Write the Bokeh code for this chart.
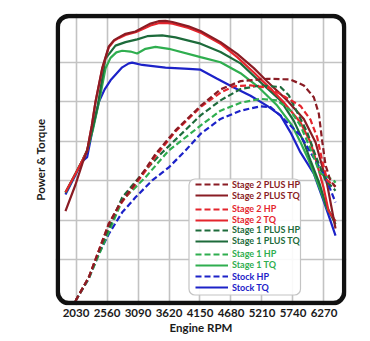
from bokeh.plotting import figure
from bokeh.models import Range1d, FixedTicker, BoxAnnotation, Legend, LegendItem, LinearAxis
from bokeh.embed import file_html
from bokeh.resources import INLINE

# ---------------- data ----------------
rpm_ticks = [2030, 2560, 3090, 3620, 4150, 4680, 5210, 5740, 6270]
grid_levels = [100, 200, 300, 400, 500, 600]

s2p_tq_rpm = [1850, 2021, 2141, 2221, 2300, 2363, 2478, 2591, 2680, 2760, 2876, 3047, 3184, 3304, 3441, 3560, 3680, 3953, 4159, 4501, 4786, 5070, 5299, 5641, 5925, 6125, 6211, 6325, 6467]
s2p_tq_val = [223, 290, 345, 377, 440, 500, 586, 641, 657, 664, 673, 679, 690, 699, 705, 706, 703, 692, 680, 652, 622, 586, 552, 504, 457, 398, 352, 290, 179]

s2_tq_rpm = [1850, 2021, 2141, 2221, 2300, 2363, 2478, 2591, 2680, 2760, 2876, 3047, 3184, 3304, 3441, 3560, 3680, 3953, 4159, 4501, 4786, 5070, 5355, 5583, 5868, 6039, 6125, 6262, 6348, 6467]
s2_tq_val = [271, 318, 352, 377, 440, 500, 584, 639, 655, 662, 670, 677, 686, 694, 700, 701, 699, 688, 676, 648, 614, 575, 534, 499, 448, 398, 356, 283, 224, 197]

s1p_tq_rpm = [1850, 2021, 2141, 2221, 2310, 2400, 2534, 2705, 2876, 3076, 3247, 3504, 3731, 4159, 4501, 4843, 5184, 5526, 5754, 5925, 6039, 6200, 6300, 6467]
s1p_tq_val = [270, 318, 352, 377, 430, 490, 610, 643, 652, 659, 667, 669, 664, 648, 627, 598, 550, 504, 452, 398, 352, 290, 240, 190]

s1_tq_rpm = [1850, 2021, 2141, 2221, 2320, 2432, 2534, 2620, 2720, 2820, 2962, 3076, 3218, 3389, 3617, 4159, 4501, 4843, 5156, 5470, 5726, 5868, 6010, 6211, 6325, 6467]
s1_tq_val = [270, 318, 352, 377, 430, 506, 585, 612, 626, 630, 628, 623, 635, 640, 635, 614, 601, 573, 537, 491, 440, 398, 352, 275, 229, 197]

st_tq_rpm = [1850, 2021, 2141, 2221, 2320, 2420, 2520, 2620, 2820, 2933, 2990, 3162, 3560, 3959, 4159, 4444, 4728, 5014, 5299, 5526, 5697, 5868, 6096, 6296, 6467]
st_tq_val = [265, 315, 350, 360, 435, 500, 532, 555, 588, 598, 600, 594, 587, 584, 582, 559, 537, 516, 490, 466, 423, 372, 318, 235, 161]

s2p_hp_rpm = [2021, 2249, 2420, 2591, 2762, 2991, 3218, 3389, 3731, 4159, 4501, 4843, 5299, 5697, 5925, 6096, 6182, 6240, 6296, 6381, 6467]
s2p_hp_val = [-5, 55, 123, 191, 237, 283, 330, 368, 428, 490, 532, 553, 559, 557, 542, 512, 470, 400, 340, 300, 285]

s2_hp_rpm = [2021, 2249, 2420, 2591, 2762, 2991, 3218, 3389, 3731, 4159, 4501, 4728, 5014, 5299, 5526, 5868, 6039, 6154, 6240, 6325, 6467]
s2_hp_val = [-5, 55, 123, 191, 235, 280, 325, 362, 425, 487, 524, 540, 542, 537, 520, 490, 455, 410, 351, 301, 285]

s1p_hp_rpm = [2021, 2249, 2420, 2591, 2820, 3162, 3504, 3617, 4159, 4501, 4843, 5184, 5526, 5668, 5812, 5983, 6125, 6300, 6410, 6467]
s1p_hp_val = [-5, 55, 118, 180, 258, 318, 372, 388, 466, 504, 533, 542, 538, 517, 474, 423, 364, 300, 284, 275]

s1_hp_rpm = [2021, 2249, 2420, 2591, 2820, 3218, 3617, 4159, 4501, 4843, 5184, 5470, 5697, 5868, 6039, 6200, 6438, 6467]
s1_hp_val = [-5, 52, 112, 170, 250, 309, 377, 440, 478, 498, 508, 504, 478, 440, 381, 320, 301, 295]

st_hp_rpm = [2021, 2249, 2420, 2591, 2820, 3047, 3333, 3617, 3902, 4159, 4501, 4843, 5184, 5355, 5526, 5868, 6039, 6296, 6467]
st_hp_val = [-5, 52, 115, 165, 220, 258, 301, 334, 377, 419, 457, 478, 489, 487, 465, 415, 372, 309, 245]

# ---------------- style ----------------
C_S2P = "#8a1c24"
C_S2 = "#e4252d"
C_S1P = "#1d6b3b"
C_S1 = "#2fae4f"
C_ST = "#1c22c8"
FONT = "Lato"

W, H = 370, 341
FL, FR, FT, FB = 55, 346, 13, 305
X0, X1, Y0, Y1 = 1679.5, 6654.7, -16.5, 724.6

p = figure(width=W, height=H, output_backend="svg", toolbar_location=None,
           x_range=Range1d(X0, X1), y_range=Range1d(Y0, Y1),
           min_border_left=FL, min_border_right=W - FR,
           min_border_top=FT, min_border_bottom=H - FB,
           background_fill_color="white", border_fill_color="white")
p.outline_line_color = None

p.xaxis.ticker = FixedTicker(ticks=rpm_ticks)
p.yaxis.ticker = FixedTicker(ticks=grid_levels)
p.yaxis.visible = False

ylab_axis = LinearAxis(ticker=FixedTicker(ticks=[]), axis_label="Power & Torque")
p.add_layout(ylab_axis, "left")

for ax in (p.xaxis[0], ylab_axis):
    ax.axis_line_color = None
    ax.major_tick_line_color = None
    ax.minor_tick_line_color = None
    ax.major_tick_in = 0
    ax.major_tick_out = 0
    ax.minor_tick_in = 0
    ax.minor_tick_out = 0
    ax.axis_label_text_font = FONT
    ax.axis_label_text_font_style = "bold"
    ax.axis_label_text_font_size = "11.5px"
    ax.axis_label_text_color = "#1a1a1a"
p.xaxis.major_label_text_font = FONT
p.xaxis.major_label_text_font_style = "bold"
p.xaxis.major_label_text_font_size = "11.5px"
p.xaxis.major_label_text_color = "#1a1a1a"
p.xaxis.major_label_standoff = 3
p.xaxis.axis_label = "Engine RPM"
p.xaxis.axis_label_standoff = 1
ylab_axis.major_label_standoff = 0
ylab_axis.axis_label_standoff = 9

p.xgrid.grid_line_color = "#c3c3c3"
p.ygrid.grid_line_color = "#c3c3c3"
p.xgrid.grid_line_width = 1.6
p.ygrid.grid_line_width = 1.6

LW = 2.2
DASH = "6 3"
r_st_tq = p.line(st_tq_rpm, st_tq_val, line_color=C_ST, line_width=LW)
r_s1_tq = p.line(s1_tq_rpm, s1_tq_val, line_color=C_S1, line_width=LW)
r_s1p_tq = p.line(s1p_tq_rpm, s1p_tq_val, line_color=C_S1P, line_width=LW)
r_s2_tq = p.line(s2_tq_rpm, s2_tq_val, line_color=C_S2, line_width=LW)
r_s2p_tq = p.line(s2p_tq_rpm, s2p_tq_val, line_color=C_S2P, line_width=LW)
r_st_hp = p.line(st_hp_rpm, st_hp_val, line_color=C_ST, line_width=LW, line_dash=DASH)
r_s1_hp = p.line(s1_hp_rpm, s1_hp_val, line_color=C_S1, line_width=LW, line_dash=DASH)
r_s1p_hp = p.line(s1p_hp_rpm, s1p_hp_val, line_color=C_S1P, line_width=LW, line_dash=DASH)
r_s2_hp = p.line(s2_hp_rpm, s2_hp_val, line_color=C_S2, line_width=LW, line_dash=DASH)
r_s2p_hp = p.line(s2p_hp_rpm, s2p_hp_val, line_color=C_S2P, line_width=LW, line_dash=DASH)

# screen px -> data helpers (layout only)
def xd(px):
    return X0 + (px - FL) * (X1 - X0) / (FR - FL)

def yd(py):
    return Y0 + (FB - py) * (Y1 - Y0) / (FB - FT)

# rounded frame border
p.add_layout(BoxAnnotation(left=xd(57.3), right=xd(343.7), top=yd(15.4), bottom=yd(302.6),
                           fill_color=None, fill_alpha=0, line_color="#111111", line_alpha=1.0,
                           line_width=4.5, border_radius=11, level="overlay"))

# legend box
p.add_layout(BoxAnnotation(left=xd(188.5), right=xd(300), top=yd(178.5), bottom=yd(294.5),
                           fill_color="white", fill_alpha=0.9, line_color="#c4c4c4", line_alpha=1.0,
                           line_width=1.2, border_radius=6, level="overlay"))

groups = [
    ("Stage 2 PLUS HP", r_s2p_hp, "Stage 2 PLUS TQ", r_s2p_tq, C_S2P, 195.5),
    ("Stage 2 HP", r_s2_hp, "Stage 2 TQ", r_s2_tq, C_S2, 219.8),
    ("Stage 1 PLUS HP", r_s1p_hp, "Stage 1 PLUS TQ", r_s1p_tq, C_S1P, 241.2),
    ("Stage 1 HP", r_s1_hp, "Stage 1 TQ", r_s1_tq, C_S1, 265.0),
    ("Stock HP", r_st_hp, "Stock TQ", r_st_tq, C_ST, 287.7),
]
for lab1, r1, lab2, r2, col, tq_y in groups:
    leg = Legend(items=[LegendItem(label=lab1, renderers=[r1]),
                        LegendItem(label=lab2, renderers=[r2])],
                 location=(195 - FL, FB - (tq_y + 5.25)),
                 orientation="vertical", padding=0, margin=0, spacing=0,
                 glyph_width=33, glyph_height=10, label_height=10, label_standoff=4,
                 label_text_font=FONT, label_text_font_style="bold",
                 label_text_font_size="9px", label_text_color=col,
                 border_line_color=None, background_fill_alpha=0,
                 inactive_fill_alpha=0)
    p.add_layout(leg)

open("out.html", "w").write(file_html(p, INLINE))
